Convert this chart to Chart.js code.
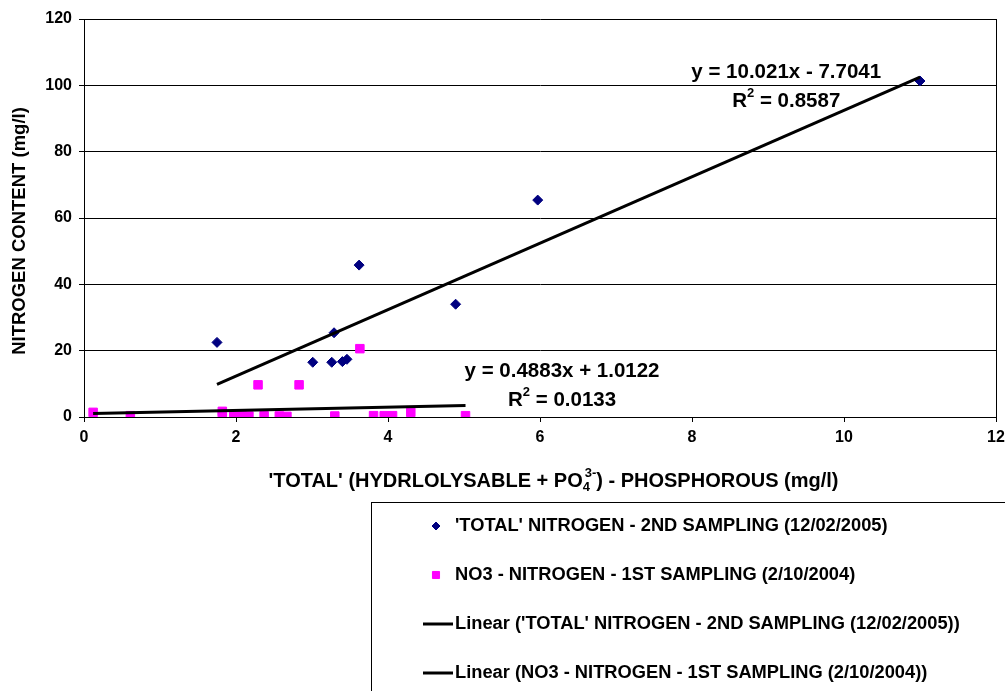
<!DOCTYPE html>
<html>
<head>
<meta charset="utf-8">
<script src="https://cdn.jsdelivr.net/npm/chart.js@4/dist/chart.umd.min.js"></script>
<style>
  html, body { margin: 0; padding: 0; background: #fff; }
  #wrap { width: 1005px; height: 691px; position: relative; }
</style>
</head>
<body>
<div id="wrap"><canvas id="chart"></canvas></div>
<script>
const FONT = '"Liberation Sans", Arial, sans-serif';

// 'TOTAL' nitrogen, 2nd sampling
const totalX = [1.75, 3.01, 3.26, 3.29, 3.40, 3.46, 3.62, 4.89, 5.97, 11.0];
const totalY = [22.5, 16.5, 16.5, 25.4, 16.7, 17.4, 45.8, 34.0, 65.4, 101.3];

// NO3 nitrogen, 1st sampling
const no3X = [0.12, 0.61, 1.82, 1.82, 1.97, 2.08, 2.17, 2.29, 2.37, 2.57,
  2.67, 2.83, 3.30, 3.63, 3.81, 3.95, 4.06, 4.30, 5.02];
const no3Y = [1.4, 0.4, 1.7, 0.3, 0.4, 0.4, 0.3, 9.7, 0.4, 0.3,
  0.2, 9.7, 0.3, 20.6, 0.4, 0.4, 0.4, 1.4, 0.4];

// trendline end points
const totalFitX = [1.75, 11.0];
const totalFitY = [9.8, 102.5];
const no3FitX = [0.12, 5.02];
const no3FitY = [1.07, 3.46];

const xTicks = [0, 2, 4, 6, 8, 10, 12];
const yTicks = [0, 20, 40, 60, 80, 100, 120];

const seriesNames = [
  "'TOTAL' NITROGEN - 2ND SAMPLING (12/02/2005)",
  "NO3 - NITROGEN - 1ST SAMPLING (2/10/2004)",
  "Linear ('TOTAL' NITROGEN - 2ND SAMPLING (12/02/2005))",
  "Linear (NO3 - NITROGEN - 1ST SAMPLING (2/10/2004))",
];

// equation labels, anchored in data units
const fitLabels = [
  { x: 9.24, y: 104.0, eq: "y = 10.021x - 7.7041", r2: "0.8587" },
  { x: 6.29, y: 13.7, eq: "y = 0.4883x + 1.0122", r2: "0.0133" },
];

const toPoints = (xs, ys) => xs.map((x, i) => ({ x, y: ys[i] }));

function boldFont(size) {
  return `bold ${size}px ${FONT}`;
}

const overlay = {
  id: "overlay",
  afterDraw(chart) {
    const { ctx, chartArea, scales } = chart;
    ctx.save();

    // right border of plot
    ctx.strokeStyle = "#000";
    ctx.lineWidth = 1;
    ctx.beginPath();
    ctx.moveTo(Math.round(chartArea.right) + 0.5, chartArea.top);
    ctx.lineTo(Math.round(chartArea.right) + 0.5, chartArea.bottom);
    ctx.stroke();

    ctx.fillStyle = "#000";

    // trendline equations
    fitLabels.forEach((lab) => {
      const cx = scales.x.getPixelForValue(lab.x);
      const cy = scales.y.getPixelForValue(lab.y);
      ctx.font = boldFont(20.5);
      ctx.textAlign = "center";
      ctx.textBaseline = "middle";
      ctx.fillText(lab.eq, cx, cy);

      const rest = " = " + lab.r2;
      const wR = ctx.measureText("R").width;
      const wRest = ctx.measureText(rest).width;
      ctx.font = boldFont(13);
      const wSup = ctx.measureText("2").width;
      const x0 = cx - (wR + wSup + wRest) / 2;
      const y2 = cy + 29;
      ctx.textAlign = "left";
      ctx.font = boldFont(20.5);
      ctx.fillText("R", x0, y2);
      ctx.font = boldFont(13);
      ctx.fillText("2", x0 + wR, y2 - 8);
      ctx.font = boldFont(20.5);
      ctx.fillText(rest, x0 + wR + wSup, y2);
    });

    // y axis title
    ctx.save();
    ctx.translate(20, 231);
    ctx.rotate(-Math.PI / 2);
    ctx.font = boldFont(18.5);
    ctx.textAlign = "center";
    ctx.textBaseline = "middle";
    ctx.fillText("NITROGEN CONTENT (mg/l)", 0, 0);
    ctx.restore();

    // x axis title with sub/superscript
    const partA = "'TOTAL' (HYDRLOLYSABLE + PO";
    const partB = ") - PHOSPHOROUS (mg/l)";
    ctx.font = boldFont(20);
    const wA = ctx.measureText(partA).width;
    const wB = ctx.measureText(partB).width;
    ctx.font = boldFont(13);
    const wSub = ctx.measureText("4").width;
    const wSupX = ctx.measureText("3-").width;
    const wMid = Math.max(wSub, wSupX) + 1;
    const tx = 553 - (wA + wMid + wB) / 2;
    const ty = 481;
    ctx.textAlign = "left";
    ctx.textBaseline = "middle";
    ctx.font = boldFont(20);
    ctx.fillText(partA, tx, ty);
    ctx.font = boldFont(13);
    ctx.fillText("4", tx + wA, ty + 6);
    ctx.fillText("3-", tx + wA + 2, ty - 8);
    ctx.font = boldFont(20);
    ctx.fillText(partB, tx + wA + wMid + 1, ty);

    // legend box
    ctx.strokeStyle = "#000";
    ctx.lineWidth = 1;
    ctx.strokeRect(371.5, 502.5, 800, 300);

    chart.data.datasets.forEach((ds, i) => {
      const y = 526 + i * 49;
      if (ds.showLine) {
        ctx.strokeStyle = ds.borderColor;
        ctx.lineWidth = 3;
        ctx.beginPath();
        ctx.moveTo(423, y);
        ctx.lineTo(453, y);
        ctx.stroke();
      } else {
        ctx.fillStyle = ds.backgroundColor;
        ctx.strokeStyle = ds.borderColor;
        ctx.lineWidth = 1;
        Chart.helpers.drawPoint(ctx, {
          pointStyle: ds.pointStyle,
          radius: ds.legendRadius,
          rotation: 0,
          borderWidth: 1,
        }, 436, y);
      }
      ctx.fillStyle = "#000";
      ctx.font = boldFont(18.3);
      ctx.textAlign = "left";
      ctx.textBaseline = "middle";
      ctx.fillText(seriesNames[i], 455, y);
    });

    ctx.restore();
  },
};

new Chart(document.getElementById("chart"), {
  type: "scatter",
  data: {
    datasets: [
      {
        label: seriesNames[0],
        data: toPoints(totalX, totalY),
        pointStyle: "rectRot",
        pointRadius: 5,
        legendRadius: 4,
        backgroundColor: "#000080",
        borderColor: "#000080",
        borderWidth: 1,
        order: 2,
      },
      {
        label: seriesNames[1],
        data: toPoints(no3X, no3Y),
        pointStyle: "rect",
        pointRadius: 6,
        legendRadius: 5,
        backgroundColor: "#ff00ff",
        borderColor: "#ff00ff",
        borderWidth: 1,
        order: 1,
      },
      {
        label: seriesNames[2],
        data: toPoints(totalFitX, totalFitY),
        showLine: true,
        pointRadius: 0,
        borderColor: "#000",
        borderWidth: 3,
        order: 0,
      },
      {
        label: seriesNames[3],
        data: toPoints(no3FitX, no3FitY),
        showLine: true,
        pointRadius: 0,
        borderColor: "#000",
        borderWidth: 3,
        order: 0,
      },
    ],
  },
  options: {
    responsive: true,
    maintainAspectRatio: false,
    animation: false,
    events: [],
    layout: { padding: { top: 19, right: 9, left: 0, bottom: 0 } },
    plugins: {
      legend: { display: false },
      tooltip: { enabled: false },
    },
    scales: {
      x: {
        type: "linear",
        min: 0,
        max: 12,
        afterBuildTicks: (scale) => {
          scale.ticks = xTicks.map((value) => ({ value }));
        },
        afterFit: (scale) => {
          scale.height = 274;
          scale.paddingRight = 0;
          scale.paddingLeft = 0;
        },
        grid: { drawOnChartArea: false, color: "#000", tickLength: 5 },
        border: { color: "#000", width: 1 },
        ticks: {
          color: "#000",
          padding: 6,
          maxRotation: 0,
          font: { family: FONT, size: 16, weight: "bold" },
        },
      },
      y: {
        type: "linear",
        min: 0,
        max: 120,
        afterBuildTicks: (scale) => {
          scale.ticks = yTicks.map((value) => ({ value }));
        },
        afterFit: (scale) => {
          scale.width = 84;
          scale.paddingTop = 0;
          scale.paddingBottom = 0;
        },
        grid: { color: "#000", tickLength: 5 },
        border: { color: "#000", width: 1 },
        ticks: {
          color: "#000",
          padding: 7,
          font: { family: FONT, size: 16, weight: "bold" },
        },
      },
    },
  },
  plugins: [overlay],
});
</script>
</body>
</html>
